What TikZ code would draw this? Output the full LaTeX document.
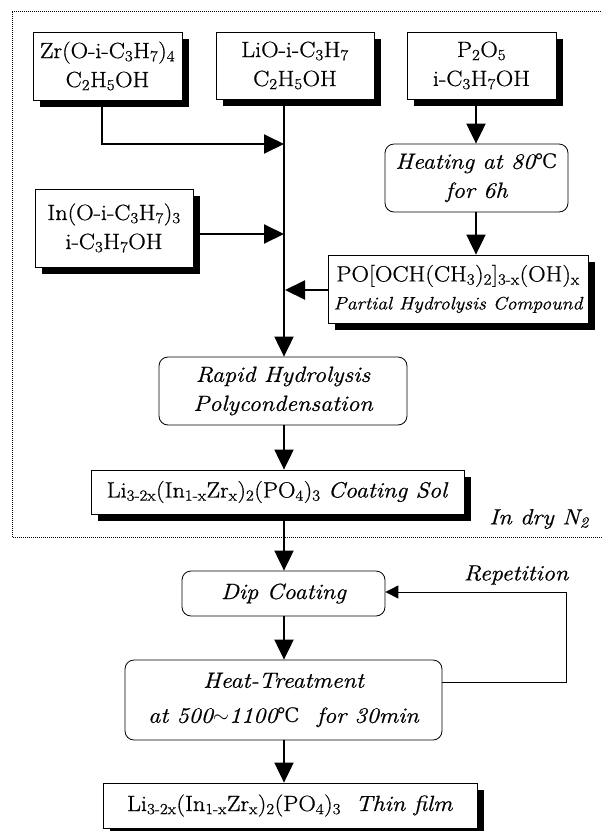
\documentclass[tikz,border=0pt]{standalone}
\usepackage{fontspec}
\setmainfont{Latin Modern Roman}[FakeStretch=1.1, FakeBold=0.7]
\newfontfamily\symf{DejaVu Serif}
\usetikzlibrary{arrows.meta,shadows}
\newcommand{\dgC}{{\symf\upshape\fontsize{20}{22}\selectfont ℃}}
\newcommand{\sbs}[1]{\textsubscript{#1}}
\begin{document}
\begin{tikzpicture}[x=1pt,y=-1pt, font=\fontsize{22}{29}\selectfont,
 sbox/.style={draw, line width=0.8pt, fill=white, align=center, inner sep=0pt,
   drop shadow={shadow xshift=7pt, shadow yshift=-7pt, opacity=1, fill=black}},
 rbox/.style={draw, line width=0.8pt, fill=white, rounded corners=9pt, align=center, inner sep=0pt},
 flow/.style={line width=2pt, -{Triangle[length=20pt,width=19pt]}},
 loopline/.style={line width=1pt, -{Triangle[length=13pt,width=13pt]}}
]
\useasboundingbox (0,0) rectangle (602,831);
\draw[line width=0.7pt, dash pattern=on 0.8pt off 1.2pt] (603,11) -- (12,11) -- (12,537) -- (603,537);

\coordinate (mx) at (284,0);
\coordinate (px) at (476,0);

\node[sbox, minimum width=149pt, minimum height=68pt] (Zr) at (107.5,66)
  {Zr(O-i-C\sbs{3}H\sbs{7})\sbs{4}\\C\sbs{2}H\sbs{5}OH};
\node[sbox, minimum width=158pt, minimum height=67pt] (Li) at (295,65.5)
  {LiO-i-C\sbs{3}H\sbs{7}\\C\sbs{2}H\sbs{5}OH};
\node[sbox, minimum width=149pt, minimum height=67pt] (P) at (481.5,65.5)
  {P\sbs{2}O\sbs{5}\\i-C\sbs{3}H\sbs{7}OH};
\node[rbox, minimum width=183pt, minimum height=68pt] (Heating) at (476.5,178)
  {\itshape Heating at 80\dgC\\\itshape for 6h};
\node[sbox, minimum width=260pt, minimum height=68pt] (PO) at (458,289)
  {PO[OCH(CH\sbs{3})\sbs{2}]\sbs{3-x}(OH)\sbs{x}\\[-1pt]{\fontsize{18}{22}\selectfont\itshape Partial Hydrolysis Compound}};
\node[sbox, minimum width=158pt, minimum height=78pt] (In) at (114,228)
  {In(O-i-C\sbs{3}H\sbs{7})\sbs{3}\\i-C\sbs{3}H\sbs{7}OH};
\node[rbox, minimum width=248pt, minimum height=68pt] (Rapid) at (283,391)
  {\itshape Rapid Hydrolysis\\\itshape Polycondensation};
\node[sbox, minimum width=373pt, minimum height=44pt] (Coat) at (277.5,492)
  {Li\sbs{3-2x}(In\sbs{1-x}Zr\sbs{x})\sbs{2}(PO\sbs{4})\sbs{3} \textit{Coating Sol}};
\node[rbox, minimum width=203pt, minimum height=45pt] (Dip) at (283.5,593.5)
  {\itshape Dip Coating};
\node[rbox, minimum width=317pt, minimum height=80pt] (HT) at (283.5,700)
  {\itshape Heat-Treatment\\[6pt]\itshape at 500$\sim$1100\dgC\ \ for 30min};
\node[sbox, minimum width=374pt, minimum height=45pt] (Thin) at (290,805.5)
  {Li\sbs{3-2x}(In\sbs{1-x}Zr\sbs{x})\sbs{2}(PO\sbs{4})\sbs{3}\ \ \textit{Thin film}};

\node[anchor=east, inner sep=0pt] (dry) at (589,519) {\itshape In dry N\sbs{2}};
\node[inner sep=0pt] (rep) at (516,575) {\itshape Repetition};

\coordinate (j1) at (284,144);
\coordinate (j2) at (284,234);
\coordinate (j3) at (285,290);
\coordinate (r1) at (566,682);
\coordinate (r2) at (566,592);

\draw[flow] ([xshift=-5.5pt]Zr.south) |- (j1);
\draw[flow] (In.east |- j2) -- (j2);
\draw[flow] (PO.west |- j3) -- (j3);
\draw[flow] (Li.south -| mx) -- (Rapid.north -| mx);
\draw[flow] (P.south -| px) -- (Heating.north -| px);
\draw[flow] (Heating.south -| px) -- (PO.north -| px);
\draw[flow] (Rapid.south -| mx) -- (Coat.north -| mx);
\draw[flow] (Coat.south -| mx) -- (Dip.north -| mx);
\draw[flow] (Dip.south -| mx) -- (HT.north -| mx);
\draw[flow] (HT.south -| mx) -- (Thin.north -| mx);
\draw[loopline] (HT.east |- r1) -- (r1) -- (r2) -- (Dip.east |- r2);
\end{tikzpicture}
\end{document}
